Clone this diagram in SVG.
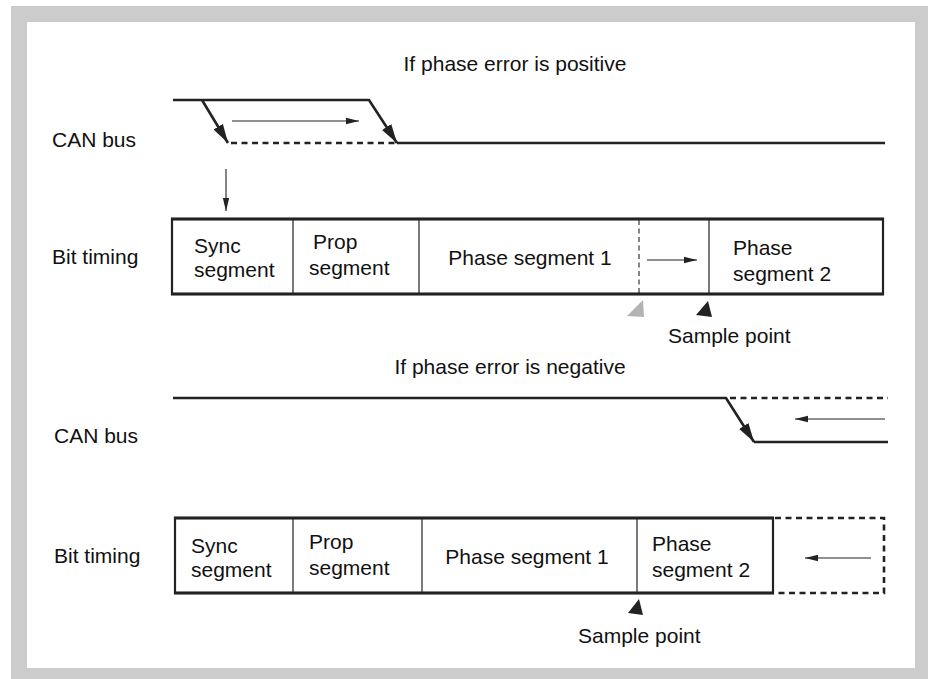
<svg xmlns="http://www.w3.org/2000/svg" width="928" height="679" viewBox="0 0 928 679">
<defs>
<style>
text{font-family:"Liberation Sans",Arial,Helvetica,sans-serif;font-size:21px;fill:#111}
.bus{fill:none;stroke:#222;stroke-width:2.6}
.dash{fill:none;stroke:#222;stroke-width:2.6;stroke-dasharray:6,4.5}
.box{fill:#fff;stroke:#222;stroke-width:2.2}
.edge{stroke:#222;stroke-width:2.8}
.div{stroke:#222;stroke-width:1.2}
.thin{fill:none;stroke:#222;stroke-width:1.1}
</style>
<marker id="bold" markerUnits="userSpaceOnUse" markerWidth="20" markerHeight="12" refX="19" refY="6" orient="auto">
<path d="M0,0.5 L19,6 L0,11.5 Z" fill="#222"/>
</marker>
<marker id="thinhead" markerUnits="userSpaceOnUse" markerWidth="14" markerHeight="8" refX="13" refY="4" orient="auto">
<path d="M0,0.8 L13,4 L0,7.2 Z" fill="#222"/>
</marker>
</defs>
<g id="frame">
<rect x="11" y="6" width="917" height="673" fill="#cccccc"/>
<rect x="27" y="22" width="888" height="646" fill="#ffffff"/>
</g>
<g id="title-positive"><text x="515" y="71" text-anchor="middle">If phase error is positive</text></g>
<g id="canbus-label-1"><text x="52" y="147">CAN bus</text></g>
<g id="bittiming-label-1"><text x="52" y="264">Bit timing</text></g>
<g id="bit-timing-1">
<rect class="box" x="172" y="219" width="711" height="75"/>
<line class="edge" x1="171" y1="219" x2="884" y2="219"/>
<line class="edge" x1="171" y1="294" x2="884" y2="294"/>
<line class="div" x1="293" y1="219" x2="293" y2="294"/>
<line class="div" x1="419" y1="219" x2="419" y2="294"/>
<line class="div" x1="709" y1="219" x2="709" y2="294"/>
<line class="thin" x1="639" y1="220" x2="639" y2="293" stroke-dasharray="5,3.5"/>
</g>
<g id="sync-1"><text x="194" y="253">Sync</text><text x="194" y="277">segment</text></g>
<g id="prop-1"><text x="313" y="249">Prop</text><text x="309" y="275">segment</text></g>
<g id="phase1-1"><text x="530" y="265" text-anchor="middle" font-size="20">Phase segment 1</text></g>
<g id="phase2-1"><text x="733" y="255">Phase</text><text x="733" y="281">segment 2</text></g>
<g id="sample-1">
<polygon points="643,300 627,316 644,317" fill="#b3b3b3"/>
<polygon points="708,301 696,315 712,317" fill="#222"/>
<text x="668" y="343">Sample point</text>
</g>
<g id="title-negative"><text x="510" y="374" text-anchor="middle">If phase error is negative</text></g>
<g id="canbus-label-2"><text x="54" y="443">CAN bus</text></g>
<g id="bittiming-label-2"><text x="54" y="563">Bit timing</text></g>
<g id="bit-timing-2">
<rect class="box" x="175" y="518" width="598" height="75"/>
<line class="edge" x1="174" y1="518" x2="774" y2="518"/>
<line class="edge" x1="174" y1="593" x2="774" y2="593"/>
<line class="div" x1="293" y1="518" x2="293" y2="593"/>
<line class="div" x1="422" y1="518" x2="422" y2="593"/>
<line class="div" x1="637" y1="518" x2="637" y2="593"/>
<path class="dash" d="M775,518 H884 V593 H775"/>
</g>
<g id="sync-2"><text x="191" y="553">Sync</text><text x="191" y="577">segment</text></g>
<g id="prop-2"><text x="309" y="549">Prop</text><text x="309" y="575">segment</text></g>
<g id="phase1-2"><text x="527" y="564" text-anchor="middle" font-size="20">Phase segment 1</text></g>
<g id="phase2-2"><text x="652" y="551">Phase</text><text x="652" y="577">segment 2</text></g>
<g id="sample-2">
<polygon points="639,599 628,613 643,615" fill="#222"/>
<text x="578" y="643">Sample point</text>
</g>
<g id="connectors">
<path class="bus" d="M173,100 H369 L397,143" marker-end="url(#bold)"/>
<path class="bus" d="M397,143 H885"/>
<path class="bus" d="M202,100 L228,143" marker-end="url(#bold)"/>
<path class="dash" d="M231,143 H395"/>
<path class="thin" d="M232,121 H359" marker-end="url(#thinhead)"/>
<path class="thin" d="M226,169 V211" marker-end="url(#thinhead)"/>
<path class="thin" d="M647,260 H697" marker-end="url(#thinhead)"/>
<path class="bus" d="M173,398 H726 L754,442" marker-end="url(#bold)"/>
<path class="bus" d="M754,442 H888"/>
<path class="dash" d="M730,398 H888"/>
<path class="thin" d="M885,419 H795" marker-end="url(#thinhead)"/>
<path class="thin" d="M871,558 H805" marker-end="url(#thinhead)"/>
</g>
</svg>
